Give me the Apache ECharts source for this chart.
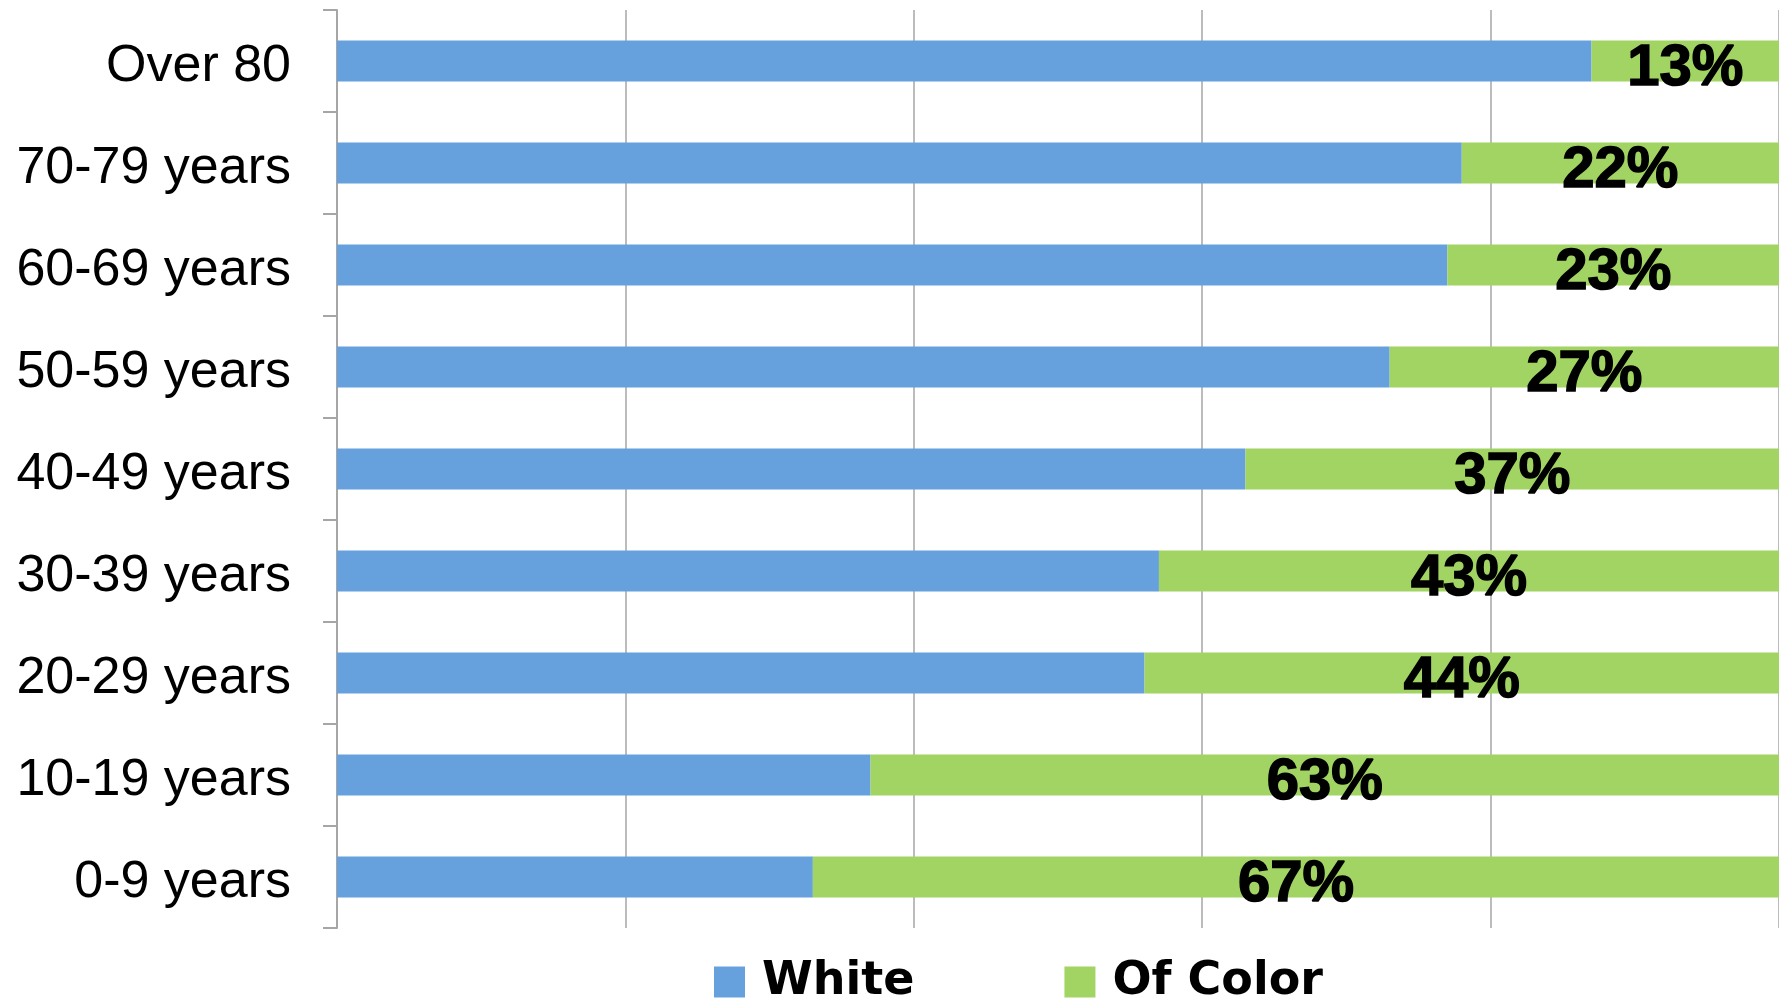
<!DOCTYPE html>
<html>
<head>
<meta charset="utf-8">
<script src="https://cdn.jsdelivr.net/npm/echarts@6/dist/echarts.min.js"></script>
<style>
html,body{margin:0;padding:0;background:#fff;}
#chart{width:1779px;height:1000px;}
</style>
</head>
<body>
<div id="chart"></div>
<script>
const categories = ['Over 80','70-79 years','60-69 years','50-59 years','40-49 years','30-39 years','20-29 years','10-19 years','0-9 years'];
const whiteValues = [87,78,77,73,63,57,56,37,33];
const colorValues = [13,22,23,27,37,43,44,63,67];
const xTicks = [0,20,40,60,80,100];

const chart = echarts.init(document.getElementById('chart'), null, {renderer:'canvas'});
chart.setOption({
  animation:false,
  backgroundColor:'#ffffff',
  grid:{left:337,right:-4,top:10,bottom:72,containLabel:false},
  xAxis:{
    type:'value', min:xTicks[0], max:xTicks[xTicks.length-1], interval:20,
    axisLine:{show:false}, axisTick:{show:false}, axisLabel:{show:false},
    splitLine:{show:true,lineStyle:{color:'#a6a6a6',width:1.5}}
  },
  yAxis:{
    type:'category', data:categories, inverse:true,
    axisLine:{show:true,lineStyle:{color:'#a6a6a6',width:2}},
    axisTick:{show:true,length:14,lineStyle:{color:'#a6a6a6',width:2}},
    axisLabel:{margin:46,color:'#000',fontFamily:'Liberation Sans, Arial, sans-serif',fontSize:52,
      verticalAlign:'top',lineHeight:12}
  },
  legend:{
    left:709, top:954, orient:'horizontal',
    itemWidth:31, itemHeight:31, itemGap:150,
    icon:'rect',
    data:['White','Of Color'],
    textStyle:{color:'#000',fontFamily:'DejaVu Sans, sans-serif',fontWeight:'bold',fontSize:46,padding:[0,0,0,12]}
  },
  series:[
    {name:'White',type:'bar',stack:'a',data:whiteValues,barCategoryGap:'60%',
     itemStyle:{color:'#66a1dd'}},
    {name:'Of Color',type:'bar',stack:'a',data:colorValues,barCategoryGap:'60%',
     itemStyle:{color:'#a1d463'},
     label:{show:true,position:'inside',formatter:'{c}%',color:'#000',
       fontFamily:'Liberation Sans, Arial, sans-serif',fontWeight:'bold',fontSize:58,
       textBorderColor:'#000',textBorderWidth:1.5,offset:[0,8]}}
  ]
});
</script>
</body>
</html>
